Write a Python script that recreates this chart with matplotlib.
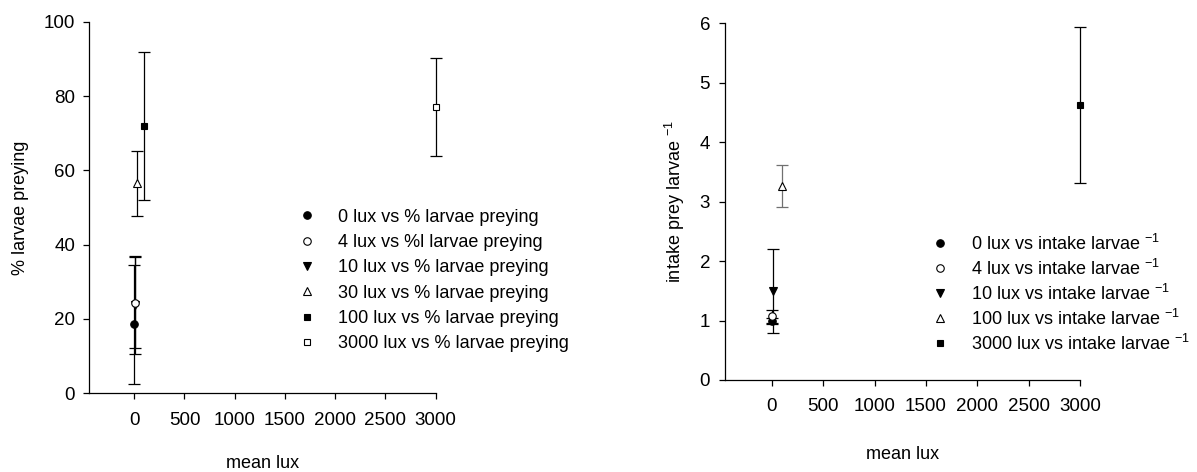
import numpy as np
import matplotlib
matplotlib.use("Agg")
import matplotlib.pyplot as plt

plt.rcParams['font.family'] = ['Liberation Sans', 'DejaVu Sans']
plt.rcParams['mathtext.fontset'] = 'custom'
plt.rcParams['mathtext.rm'] = 'Liberation Sans'

#left panel: % larvae preying
lux_a = [0, 4, 10, 30, 100, 3000]
pct_a = [18.5, 24.3, 23.6, 56.5, 72.0, 77.0]
pct_err = [16.0, 12.3, 13.2, 8.8, 20.0, 13.2]
labels_a = ["0 lux vs % larvae preying", "4 lux vs %l larvae preying",
            "10 lux vs % larvae preying", "30 lux vs % larvae preying",
            "100 lux vs % larvae preying", "3000 lux vs % larvae preying"]

#right panel: intake prey larvae^-1
lux_b = [0, 4, 10, 100, 3000]
intake_b = [1.0, 1.07, 1.5, 3.26, 4.63]
intake_err = [0.05, 0.11, 0.71, 0.35, 1.31]
sup = " $^{\\mathregular{-1}}$"
labels_b = ["0 lux vs intake larvae" + sup,
            "4 lux vs intake larvae" + sup,
            "10 lux vs intake larvae" + sup,
            "100 lux vs intake larvae" + sup,
            "3000 lux vs intake larvae" + sup]

#marker styles (marker, face, size)
sty = {0: ('o', 'black', 5.4), 4: ('o', 'white', 5.4), 10: ('v', 'black', 5.4),
       30: ('^', 'white', 5.4), 100: ('s', 'black', 4.8), 3000: ('s', 'white', 4.8)}
sty_b = {0: ('o', 'black', 5.4), 4: ('o', 'white', 5.4), 10: ('v', 'black', 5.4),
         100: ('^', 'white', 5.4), 3000: ('s', 'black', 4.8)}
errcol_b = {100: '#707070'}
order = {0: 3, 4: 5, 10: 4, 30: 3, 100: 3, 3000: 3}

fs = 13
tfs = 13.5
fig = plt.figure(figsize=(11.97, 4.72), dpi=100)
ax1 = fig.add_axes([89/1197, 1-393/472, (435.7-89)/1197, (393-22)/472])
ax2 = fig.add_axes([725.3/1197, 1-380/472, (1080.3-725.3)/1197, (380-23.3)/472])

def draw(ax, xs, ys, es, labs, st, ecols):
    for x, y, e, lab in zip(xs, ys, es, labs):
        m, fc, ms = st[x]
        eb = ax.errorbar(x, y, yerr=e, fmt='none', ecolor=ecols.get(x, 'black'),
                         elinewidth=0.9, capsize=4.2, capthick=0.9, zorder=2)
        for art in eb.lines[1] + eb.lines[2]:
            art.set_clip_on(False)
        ax.plot(x, y, linestyle='none', marker=m, markerfacecolor=fc,
                markeredgecolor='black', markeredgewidth=0.8, markersize=ms,
                label=lab, zorder=order.get(x, 3), clip_on=False)

draw(ax1, lux_a, pct_a, pct_err, labels_a, sty, {})
draw(ax2, lux_b, intake_b, intake_err, labels_b, sty_b, errcol_b)

for ax in (ax1, ax2):
    ax.set_xlim(-450, 3000)
    ax.set_xticks(np.arange(0, 3001, 500))
    ax.spines['top'].set_visible(False)
    ax.spines['right'].set_visible(False)
    for s in ('left', 'bottom'):
        ax.spines[s].set_linewidth(0.9)
    ax.tick_params(labelsize=tfs, length=4, width=0.9, direction='out')
    ax.set_xlabel("mean lux", fontsize=fs)

ax1.set_ylim(0, 100)
ax1.set_yticks(np.arange(0, 101, 20))
ax1.tick_params(axis='x', pad=10)
ax1.tick_params(axis='y', pad=6)
ax1.set_ylabel("% larvae preying", fontsize=fs)
ax1.xaxis.set_label_coords(0.5, -0.168)
ax1.yaxis.set_label_coords(-0.172, 0.5)

ax2.set_ylim(0, 6)
ax2.set_yticks(np.arange(0, 7, 1))
ax2.tick_params(axis='x', pad=9)
ax2.tick_params(axis='y', pad=7)
ax2.set_ylabel("intake prey larvae" + sup, fontsize=fs)
ax2.xaxis.set_label_coords(0.5, -0.184)
ax2.yaxis.set_label_coords(-0.108, 0.5)

leg_kw = dict(frameon=False, fontsize=fs, handlelength=1.0, handletextpad=1.22,
              borderpad=0, borderaxespad=0, loc='upper left',
              bbox_transform=fig.transFigure)
ax1.legend(bbox_to_anchor=(297.7/1197, 1-208.6/472), labelspacing=0.46, **leg_kw)
ax2.legend(bbox_to_anchor=(931/1197, 1-233.5/472), labelspacing=0.27, **leg_kw)

fig.savefig("out.png", dpi=100)
